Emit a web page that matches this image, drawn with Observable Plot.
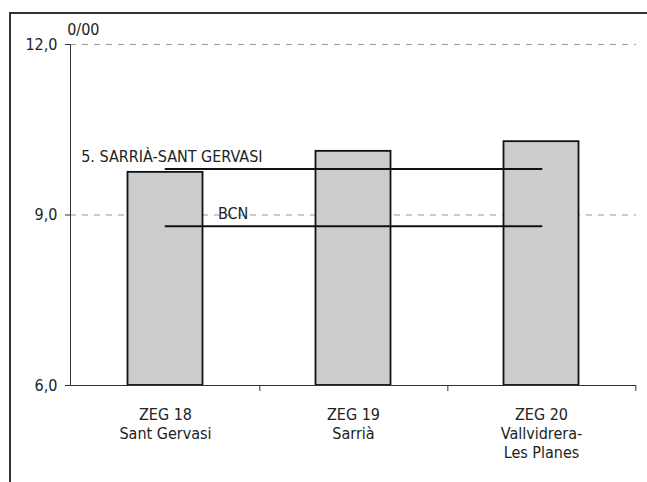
<!DOCTYPE html>
<html><head><meta charset="utf-8">
<script src="https://cdn.jsdelivr.net/npm/d3@7"></script>
<script src="https://cdn.jsdelivr.net/npm/@observablehq/plot@0.6"></script>
<style>
body{margin:0;background:#fff;}
#wrap{position:relative;width:647px;height:482px;overflow:hidden;}
#frame{position:absolute;left:9px;top:12px;width:640px;height:480px;border-top:2px solid #333;border-left:2px solid #333;pointer-events:none;}
</style></head>
<body><div id="wrap"><div id="chart"></div><div id="frame"></div></div>
<script>
// Data
const categories = ["ZEG 18\nSant Gervasi", "ZEG 19\nSarrià", "ZEG 20\nVallvidrera-\nLes Planes"];
const values = [9.75, 10.12, 10.29];
const refLabels = ["5. SARRIÀ-SANT GERVASI", "BCN"];
const refValues = [9.81, 8.80];
const yTicks = [6, 9, 12];
const yUnit = "0/00";

const bars = categories.map((c, i) => ({cat: c, value: values[i]}));
const refLines = refLabels.flatMap((l, j) => categories.map(c => ({cat: c, value: refValues[j], series: l})));
const refText = refLabels.map((l, j) => ({cat: categories[0], value: refValues[j], label: l}));

const W = 647, H = 482;
const mL = 70, mR = 11, mT = 44, mB = 97;
const bw = (W - mL - mR) / categories.length;
const font = "'DejaVu Sans Condensed', 'Liberation Sans Narrow', sans-serif";
const fmt = d => d.toFixed(1).replace(".", ",");

const chart = Plot.plot({
  width: W, height: H,
  marginLeft: mL, marginRight: mR, marginTop: mT, marginBottom: mB,
  style: {fontFamily: font, fontSize: "16px", color: "#222", background: "#fff"},
  x: {domain: categories, padding: 0, axis: null, label: null},
  y: {domain: [yTicks[0], yTicks[yTicks.length - 1]], axis: null, label: null},
  marks: [
    Plot.gridY(yTicks.slice(1), {stroke: "#999", strokeOpacity: 1, strokeDasharray: "6,6"}),
    Plot.barY(bars, {x: "cat", y1: yTicks[0], y2: "value", fill: "#cccccc", stroke: "#111", strokeWidth: 1.8, insetLeft: 56.5, insetRight: 56.5}),
    Plot.ruleY([yTicks[0]], {stroke: "#333", strokeWidth: 1}),
    Plot.frame({anchor: "left", stroke: "#333", strokeWidth: 1}),
    Plot.lineY(refLines, {x: "cat", y: "value", z: "series", stroke: "#111", strokeWidth: 2}),
    Plot.text(refText.slice(0, 1), {x: "cat", y: "value", text: "label", textAnchor: "start", lineAnchor: "middle", dx: -84.3, dy: -12.1, fill: "#222"}),
    Plot.text(refText.slice(1, 2), {x: "cat", y: "value", text: "label", textAnchor: "start", lineAnchor: "middle", dx: 52.4, dy: -12.1, fill: "#222"}),
    Plot.text([yUnit], {frameAnchor: "top-left", text: d => d, dx: -3.3, dy: -20.4, fill: "#222"}),
    Plot.axisY({ticks: yTicks, tickFormat: fmt, tickSize: 5, tickPadding: 8, label: null, stroke: "#333"}),
    Plot.axisX({tickSize: 0, tickPadding: 21, lineHeight: 1.19, label: null}),
    Plot.axisX({tickSize: 6, tickFormat: () => "", dx: bw / 2, label: null, stroke: "#333"})
  ]
});
document.getElementById("chart").appendChild(chart);
</script>
</body></html>
